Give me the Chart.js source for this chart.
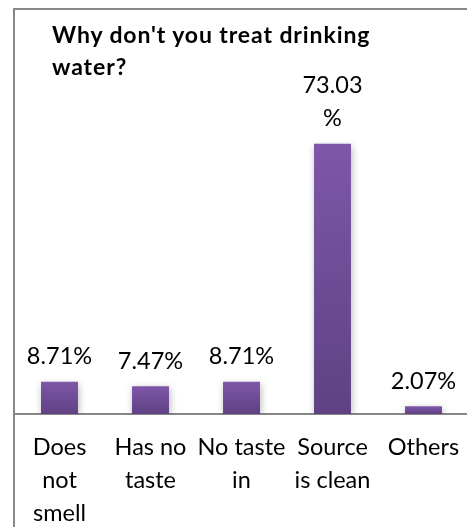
<!DOCTYPE html>
<html>
<head>
<meta charset="utf-8">
<script src="https://cdn.jsdelivr.net/npm/chart.js@4/dist/chart.umd.min.js"></script>
<style>
  html, body { margin: 0; padding: 0; background: #fff; overflow: hidden; }
  #wrap { position: absolute; left: 0; top: 0; width: 480px; height: 527px; }
  #frame {
    position: absolute; left: 13px; top: 8px; width: 520px; height: 560px;
    border: 2px solid #878787; box-sizing: border-box; pointer-events: none;
  }
  #title {
    position: absolute; left: 52px; top: 18px; margin: 0;
    font: bold 23px Lato, sans-serif; letter-spacing: 0.9px;
    line-height: 32px; color: #000;
  }
</style>
</head>
<body>
<div id="wrap">
  <canvas id="chart"></canvas>
  <div id="frame"></div>
  <h1 id="title">Why don't you treat drinking<br>water?</h1>
</div>
<script>
// Reasons given for not treating drinking water (share of respondents, %)
const categories = [
  ['Does', 'not', 'smell'],
  ['Has no', 'taste'],
  ['No taste', 'in'],
  ['Source', 'is clean'],
  ['Others']
];
const shares = [8.71, 7.47, 8.71, 73.03, 2.07];

const LABEL_FONT = { family: 'Lato, sans-serif', size: 23.5 };
const LINE_H = 33;

// each bar gets its own top-to-bottom purple gradient
function barFill(ctx) {
  const chart = ctx.chart;
  const y = chart.scales.y;
  if (!chart.chartArea || !y) return '#6e4c97';
  const top = y.getPixelForValue(ctx.raw);
  const base = y.getPixelForValue(0);
  if (!(base > top)) return '#6e4c97';
  const g = chart.ctx.createLinearGradient(0, top, 0, base);
  g.addColorStop(0, '#7e57a8');
  g.addColorStop(1, '#5f4183');
  return g;
}

// soft drop shadow under the bars
const barShadow = {
  id: 'barShadow',
  beforeDatasetsDraw(chart) {
    const c = chart.ctx;
    c.save();
    c.shadowColor = 'rgba(0,0,0,0.28)';
    c.shadowBlur = 7;
    c.shadowOffsetX = 1;
    c.shadowOffsetY = 2;
  },
  afterDatasetsDraw(chart) {
    chart.ctx.restore();
  }
};

// percentage labels above each bar; wraps the '%' onto its own line when
// the label would run above the plot area
const valueLabels = {
  id: 'valueLabels',
  afterDatasetsDraw(chart) {
    const c = chart.ctx;
    const meta = chart.getDatasetMeta(0);
    c.save();
    c.font = LABEL_FONT.size + 'px ' + LABEL_FONT.family;
    c.fillStyle = '#000';
    c.textAlign = 'center';
    c.textBaseline = 'middle';
    meta.data.forEach((el, i) => {
      const v = shares[i];
      const y = el.y - 25;
      let lines = [v.toFixed(2) + '%'];
      if (y - LABEL_FONT.size / 2 < chart.chartArea.top) {
        lines = [v.toFixed(2), '%'];
      }
      lines.slice().reverse().forEach((t, k) => {
        c.fillText(t, el.x, y - k * LINE_H);
      });
    });
    c.restore();
  }
};

new Chart(document.getElementById('chart'), {
  type: 'bar',
  data: {
    labels: categories,
    datasets: [{
      data: shares,
      backgroundColor: barFill,
      borderWidth: 0,
      categoryPercentage: 1,
      barPercentage: 0.406
    }]
  },
  options: {
    responsive: true,
    maintainAspectRatio: false,
    animation: false,
    events: [],
    layout: { padding: { left: 14, right: 11, top: 118, bottom: 0 } },
    plugins: {
      legend: { display: false },
      tooltip: { enabled: false },
      title: { display: false }
    },
    scales: {
      x: {
        grid: { display: false, drawTicks: false },
        border: { display: true, color: '#878787', width: 2 },
        ticks: {
          color: '#000',
          padding: 17,
          maxRotation: 0,
          autoSkip: false,
          font: { family: 'Lato, sans-serif', size: 23.5, lineHeight: LINE_H / 23.5 }
        },
        afterFit(scale) { scale.height = 113; }
      },
      y: {
        display: false,
        min: 0,
        max: 80
      }
    }
  },
  plugins: [barShadow, valueLabels]
});
</script>
</body>
</html>
